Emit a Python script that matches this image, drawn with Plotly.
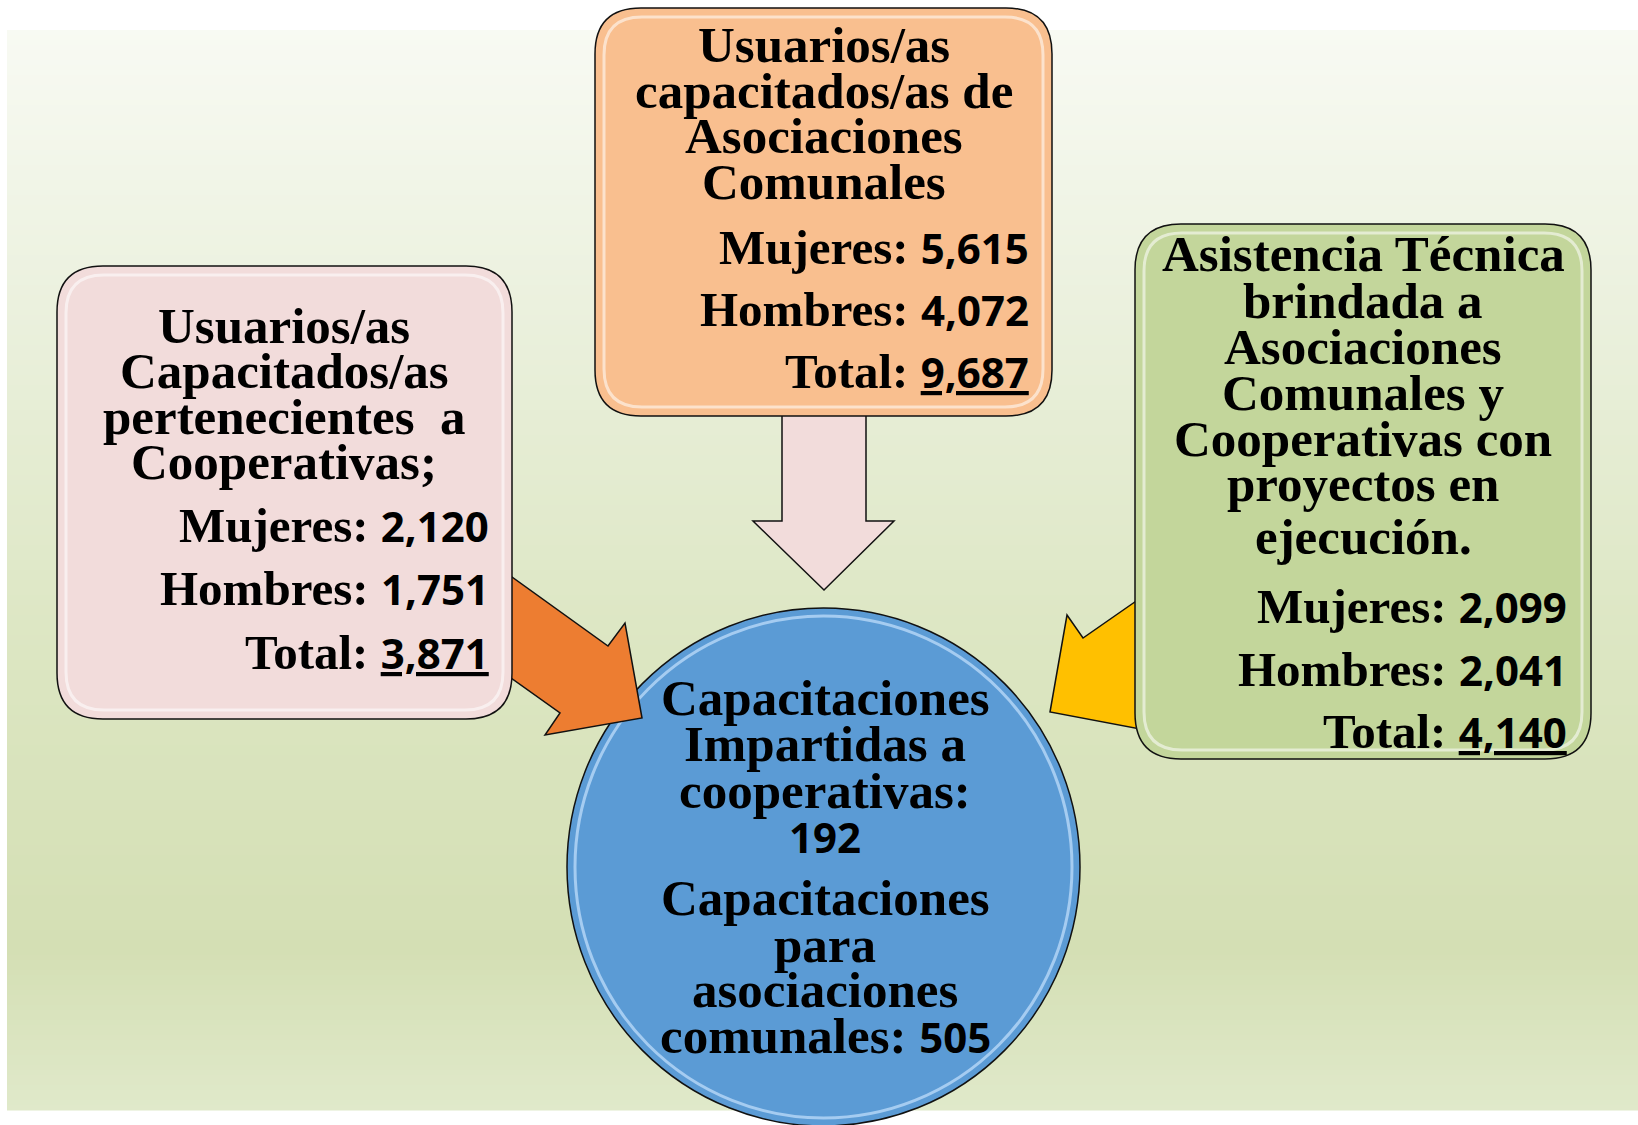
import plotly.graph_objects as go

# ---------------- data ----------------
coop_title = ["Usuarios/as", "Capacitados/as", "pertenecientes\u00a0\u00a0a", "Cooperativas;"]
coop_values = [2120, 1751, 3871]

asoc_title = ["Usuarios/as", "capacitados/as de", "Asociaciones", "Comunales"]
asoc_values = [5615, 4072, 9687]

asist_title = ["Asistencia Técnica", "brindada a", "Asociaciones", "Comunales y",
               "Cooperativas con", "proyectos en", "ejecución."]
asist_values = [2099, 2041, 4140]

row_labels = ["Mujeres:", "Hombres:", "Total:"]

center_lines_1 = ["Capacitaciones", "Impartidas a", "cooperativas:"]
cap_coop = 192
center_lines_2 = ["Capacitaciones", "para", "asociaciones"]
center_last_label = "comunales:"
cap_asoc = 505

# ---------------- layout helpers ----------------
W, H = 1638, 1125
SERIF = "Liberation Serif"
NUMF = "Noto Sans"
FS_TITLE = 51
FS_ROW = 49

shapes = []
annotations = []


def lerp(a, b, t):
    return tuple(int(round(a[i] + (b[i] - a[i]) * t)) for i in range(3))


bg_stops = [(30, (248, 250, 243)), (330, (234, 240, 220)), (650, (220, 230, 194)),
            (950, (212, 223, 180)), (1110, (224, 233, 202))]
y = 30
step = 5
while y < 1110:
    yc = y + step / 2
    for (ya, ca), (yb, cb) in zip(bg_stops[:-1], bg_stops[1:]):
        if ya <= yc <= yb:
            c = lerp(ca, cb, (yc - ya) / (yb - ya))
            break
    shapes.append(dict(type="rect", xref="x", yref="y", x0=7, x1=W, y0=y, y1=min(y + step, 1110) + 0.5,
                       fillcolor="rgb(%d,%d,%d)" % c, line=dict(width=0), layer="below"))
    y += step


def rrect(x0, y0, x1, y1, r):
    return (f"M {x0+r},{y0} L {x1-r},{y0} Q {x1},{y0} {x1},{y0+r} L {x1},{y1-r} "
            f"Q {x1},{y1} {x1-r},{y1} L {x0+r},{y1} Q {x0},{y1} {x0},{y1-r} "
            f"L {x0},{y0+r} Q {x0},{y0} {x0+r},{y0} Z")


def poly(pts):
    return "M " + " L ".join(f"{a},{b}" for a, b in pts) + " Z"


# central circle
shapes.append(dict(type="circle", xref="x", yref="y", x0=567, x1=1080, y0=608, y1=1126,
                   fillcolor="#5b9bd5", line=dict(color="#111111", width=1.5), layer="above"))
shapes.append(dict(type="circle", xref="x", yref="y", x0=575, x1=1072, y0=616, y1=1118,
                   fillcolor="rgba(0,0,0,0)", line=dict(color="rgba(190,220,250,0.75)", width=3),
                   layer="above"))

# arrows
shapes.append(dict(type="path", xref="x", yref="y",
                   path=poly([(480, 554), (608, 646), (625, 623), (642, 718), (545, 735), (560, 713), (480, 656)]),
                   fillcolor="#ed7d31", line=dict(color="#111111", width=1.5), layer="above"))
shapes.append(dict(type="path", xref="x", yref="y",
                   path=poly([(1175, 574), (1083, 638), (1067, 615), (1050, 712), (1140, 729), (1150, 712), (1180, 690)]),
                   fillcolor="#ffc000", line=dict(color="#111111", width=1.5), layer="above"))
shapes.append(dict(type="path", xref="x", yref="y",
                   path=poly([(782, 410), (866, 410), (866, 521), (894, 521), (824, 590), (753, 521), (782, 521)]),
                   fillcolor="#f2dcdb", line=dict(color="#111111", width=1.5), layer="above"))

# boxes
boxes = [
    (57, 266, 512, 719, "#f2dcdb"),
    (595, 8, 1052, 416, "#f9bf8f"),
    (1135, 224, 1591, 759, "#c3d69b"),
]
for x0, y0, x1, y1, col in boxes:
    shapes.append(dict(type="path", xref="x", yref="y", path=rrect(x0, y0, x1, y1, 46),
                       fillcolor=col, line=dict(color="#111111", width=1.5), layer="above"))
    shapes.append(dict(type="path", xref="x", yref="y", path=rrect(x0 + 9, y0 + 9, x1 - 9, y1 - 9, 38),
                       fillcolor="rgba(0,0,0,0)", line=dict(color="rgba(255,255,255,0.55)", width=3),
                       layer="above"))


def add_text(x, y, txt, anchor="center", size=FS_TITLE):
    annotations.append(dict(x=x, y=y, xref="x", yref="y", text=txt, showarrow=False,
                            xanchor=anchor, yanchor="middle",
                            font=dict(family=SERIF, size=size, color="black")))


def num(v, underline=False):
    s = f"{v:,}"
    inner = f"<span style='font-family:{NUMF};font-size:42px'>{s}</span>"
    return f"<u>{inner}</u>" if underline else inner


def block(title, ys_title, xc, values, ys_vals, xr):
    for t, yy in zip(title, ys_title):
        add_text(xc, yy, f"<b>{t}</b>")
    for i, (lab, v, yy) in enumerate(zip(row_labels, values, ys_vals)):
        add_text(xr, yy, f"<b>{lab} {num(v, underline=(i == 2))}</b>", anchor="right", size=FS_ROW)


block(coop_title, [326, 371, 417, 462], 284, coop_values, [525, 588, 652], 491)
block(asoc_title, [45, 91, 136, 182], 824, asoc_values, [247, 309, 371], 1031)
block(asist_title, [254, 301, 347, 393, 439, 484, 537], 1363, asist_values, [606, 669, 731], 1569)

cy1 = [698, 744, 791]
for t, yy in zip(center_lines_1, cy1):
    add_text(825, yy, f"<b>{t}</b>")
add_text(825, 836, f"<b>{num(cap_coop)}</b>")
cy2 = [898, 945, 990]
for t, yy in zip(center_lines_2, cy2):
    add_text(825, yy, f"<b>{t}</b>")
add_text(825, 1036, f"<b>{center_last_label} {num(cap_asoc)}</b>")

fig = go.Figure()
fig.update_layout(
    width=W, height=H,
    margin=dict(l=0, r=0, t=0, b=0),
    paper_bgcolor="white", plot_bgcolor="white",
    xaxis=dict(range=[0, W], visible=False, fixedrange=True),
    yaxis=dict(range=[H, 0], visible=False, fixedrange=True),
    shapes=shapes, annotations=annotations, showlegend=False,
)
fig.write_html("out.html", config={"displayModeBar": False},
               post_script="document.body.style.margin='0';document.body.style.overflow='hidden';")
